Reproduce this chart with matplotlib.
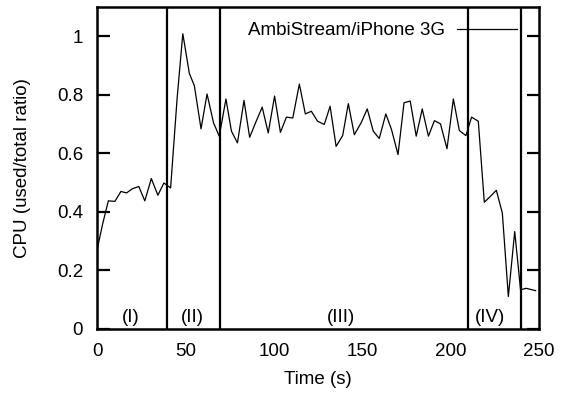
import matplotlib
matplotlib.use("Agg")
import matplotlib.pyplot as plt

plt.rcParams["font.family"] = ["Liberation Sans", "DejaVu Sans"]

# CPU trace
time_s = [0, 3.2, 6.4, 10.1, 13.5, 16.7, 19.9, 23.6, 27.0, 30.7, 34.4, 37.8,
          41.6, 45.3, 48.5, 52.2, 55.0, 58.8, 62.2, 65.9, 69.1, 72.9, 76.0,
          79.4, 83.1, 86.3, 90.0, 93.4, 96.8, 100.4, 103.7, 107.1, 110.7,
          114.4, 117.8, 121.2, 124.7, 128.5, 131.8, 135.2, 138.9, 142.1,
          145.5, 149.3, 152.8, 156.2, 159.6, 163.3, 166.5, 170.2, 173.6,
          177.1, 180.5, 183.9, 187.4, 190.8, 194.2, 197.9, 201.5, 204.9,
          208.6, 211.8, 215.6, 219.0, 222.4, 225.8, 229.2, 232.6, 236.2,
          239.5, 242.7, 248.0]
cpu = [0.27, 0.36, 0.438, 0.436, 0.47, 0.465, 0.479, 0.487, 0.438, 0.514,
       0.457, 0.499, 0.482, 0.79, 1.009, 0.873, 0.832, 0.684, 0.803, 0.704,
       0.659, 0.786, 0.676, 0.636, 0.781, 0.655, 0.71, 0.758, 0.67, 0.796,
       0.672, 0.724, 0.721, 0.837, 0.735, 0.744, 0.71, 0.699, 0.761, 0.624,
       0.661, 0.77, 0.664, 0.704, 0.752, 0.676, 0.651, 0.735, 0.682, 0.596,
       0.773, 0.779, 0.659, 0.752, 0.659, 0.712, 0.701, 0.616, 0.786, 0.678,
       0.661, 0.724, 0.71, 0.433, 0.453, 0.474, 0.396, 0.111, 0.333, 0.134,
       0.139, 0.131]

phase_bounds = [39.5, 69.5, 209.5, 240]
phase_labels = ["(I)", "(II)", "(III)", "(IV)"]
phase_centers = [19, 54, 138, 222.5]

fs = 13.5
fig = plt.figure(figsize=(5.61, 3.94), dpi=100)
ax = fig.add_axes([0.173, 0.165, 0.788, 0.817])

ax.plot(time_s, cpu, color="black", linewidth=0.9, label="AmbiStream/iPhone 3G")
for b in phase_bounds:
    ax.axvline(b, color="black", linewidth=1.6)
for c, lab in zip(phase_centers, phase_labels):
    ax.text(c, 0.04, lab, ha="center", va="center", fontsize=fs)

ax.set_xlim(0, 248.5)
ax.set_ylim(0, 1.1)
ax.set_xticks([0, 50, 100, 150, 200, 250])
ax.set_yticks([0, 0.2, 0.4, 0.6, 0.8, 1])
ax.set_yticklabels(["0", "0.2", "0.4", "0.6", "0.8", "1"])
ax.tick_params(axis="y", direction="in", length=9, width=1.6, left=True,
               right=True, labelsize=fs, pad=10)
ax.tick_params(axis="x", length=0, labelsize=fs, pad=10)
ax.set_xlabel("Time (s)", fontsize=fs, labelpad=8)
ax.set_ylabel("CPU (used/total ratio)", fontsize=fs, labelpad=19)
for sp in ax.spines.values():
    sp.set_linewidth(1.8)

ax.legend(loc="upper right", bbox_to_anchor=(0.979, 0.994), frameon=False,
          markerfirst=False, fontsize=fs, handlelength=3.2, handletextpad=0.64,
          borderaxespad=0.3)

fig.savefig("out.png", dpi=100)
